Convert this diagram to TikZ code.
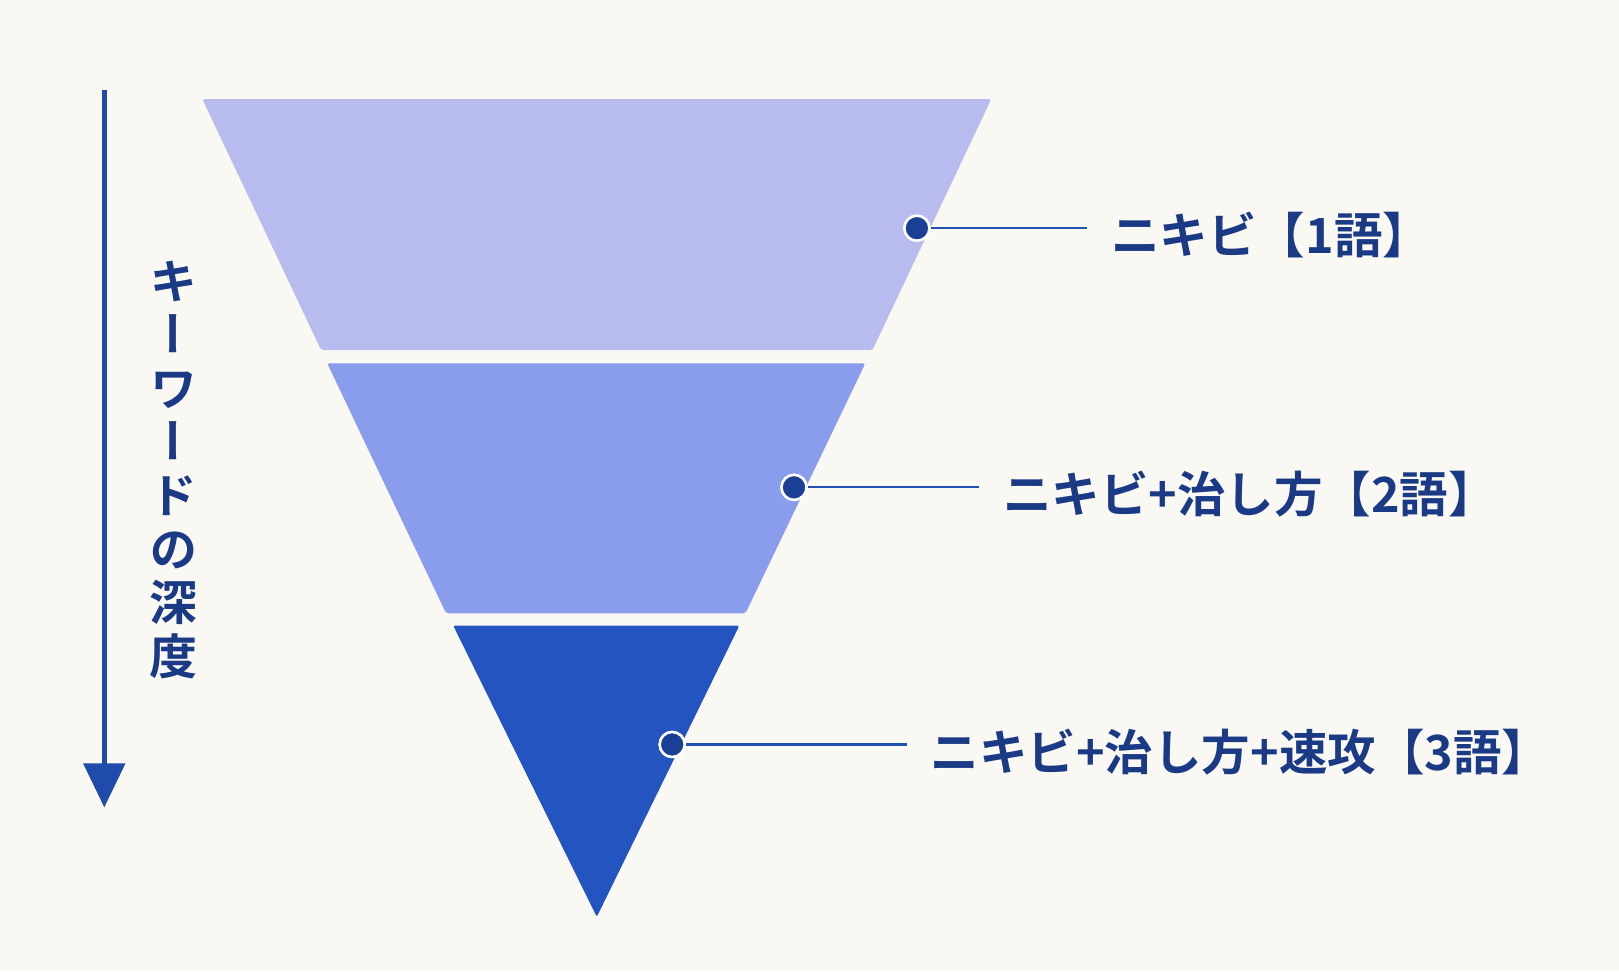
\documentclass[tikz,border=0pt]{standalone}
\usepackage{fontspec}
\usetikzlibrary{arrows.meta}
\newfontfamily\jpb{Noto Sans CJK JP}[UprightFont=* Bold]
\newfontfamily\jpv{Noto Sans CJK JP}[UprightFont=* Bold, RawFeature=+vert]
\definecolor{bgc}{HTML}{FAF8F3}
\definecolor{topc}{HTML}{B7BBEE}
\definecolor{midc}{HTML}{8A9DEC}
\definecolor{botc}{HTML}{2354C0}
\definecolor{dotc}{HTML}{1B3F94}
\definecolor{linec}{HTML}{2150B0}
\definecolor{textc}{HTML}{1B3A86}
\definecolor{arrowc}{HTML}{1F4BAA}
\tikzset{
  layer/.style={rounded corners=2pt},
  pin/.style={circle, fill=dotc, draw=white, line width=2.5pt, minimum size=25pt, inner sep=0pt},
  leader/.style={draw=linec, line width=2.2pt},
  label/.style={anchor=west, text=textc, font=\jpb\fontsize{48.5}{58}\selectfont, inner xsep=24pt, inner ysep=0pt},
}
\begin{document}
\begin{tikzpicture}[x=1.0325pt,y=-1.0325pt]
\fill[bgc] (0,0) rectangle (1568,940.45);
\useasboundingbox (0,0) rectangle (1568,940.45);
% funnel layers
\fill[topc, layer] (196,96) -- (960,96) -- (845,339) -- (311,339) -- cycle;
\fill[midc, layer] (317,352) -- (838,352) -- (722,594) -- (432,594) -- cycle;
\fill[botc, layer] (439,606) -- (716,606) -- (578,888) -- cycle;
% depth arrow
\coordinate (atop) at (101,87);
\coordinate (abot) at (101,782);
\draw[arrowc, line width=5pt, -{Triangle[width=41pt,length=44pt]}] (atop) -- (abot);
\node[text=textc, align=center, font=\jpv\fontsize{48}{53.6}\selectfont, inner sep=0pt] (vlab) at (168,455)
  {キ\\ー\\ワ\\ー\\ド\\の\\深\\度};
% labels
\node[pin] (d1) at (888,221) {};
\node[pin] (d2) at (769,472) {};
\node[pin] (d3) at (651,721) {};
\node[label] (l1) at (1053,228) {ニキビ【1語】};
\node[label] (l2) at (948,479) {ニキビ+治し方【2語】};
\node[label] (l3) at (878,728) {ニキビ+治し方+速攻【3語】};
\draw[leader] (d1.east) -- (d1 -| l1.west);
\draw[leader] (d2.east) -- (d2 -| l2.west);
\draw[leader] (d3.east) -- (d3 -| l3.west);
\node[pin] at (d1) {};
\node[pin] at (d2) {};
\node[pin] at (d3) {};
\end{tikzpicture}
\end{document}
